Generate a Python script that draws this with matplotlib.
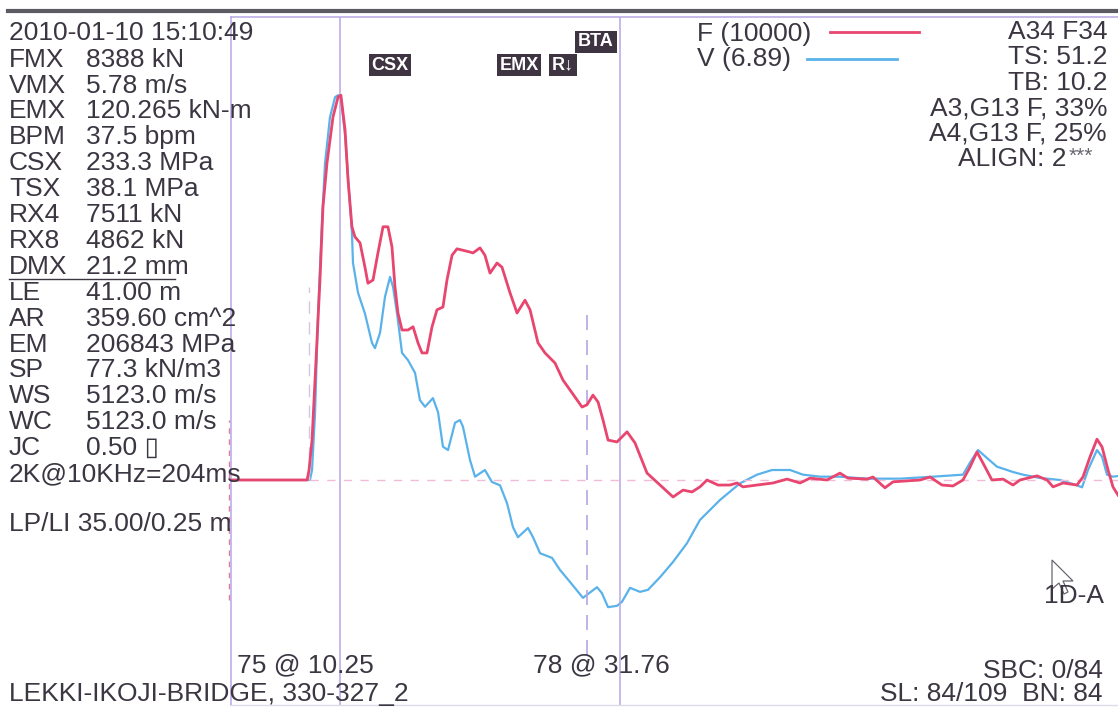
import matplotlib
matplotlib.use("Agg")
import matplotlib.pyplot as plt
from matplotlib.lines import Line2D
from matplotlib.patches import Polygon

# ── Blow record: force (kN) and velocity (m/s) vs time (ms) ──────────────────
force_t = [1.85, 7.7, 7.85, 8.08, 8.31, 8.69, 8.92, 9.23, 9.69, 10.08, 10.3,
           10.62, 10.85, 11.15, 11.38, 11.77, 12.15, 12.38, 12.77, 13.15, 13.54,
           13.92, 14.23, 14.46, 14.69, 15.0, 15.46, 15.85, 16.23, 16.54, 16.92,
           17.31, 17.69, 18.15, 18.46, 18.85, 19.23, 20.23, 20.46, 21.0, 21.38,
           21.77, 22.31, 22.69, 23.31, 23.85, 24.46, 24.85, 25.46, 26.0, 26.77,
           27.38, 28.08, 28.85, 29.23, 29.69, 30.08, 30.46, 30.85, 31.54, 32.31,
           32.92, 33.85, 34.85, 35.85, 36.62, 37.31, 37.92, 38.46, 39.31, 40.23,
           40.77, 41.23, 42.31, 43.54, 44.62, 45.62, 46.38, 47.69, 48.69, 49.31,
           50.77, 51.23, 52.15, 52.77, 54.85, 55.62, 56.54, 57.38, 58.15, 58.69,
           59.23, 59.69, 60.38, 61.23, 62.0, 62.54, 63.85, 64.62, 65.08, 65.85,
           66.92, 67.38, 67.92, 68.46, 68.85, 69.31, 69.69, 70.08]
force_kn = [0, 0, 218, 872, 2180, 4360, 5950, 6910, 7910, 8350, 8388,
            7630, 6540, 5520, 5300, 5170, 4640, 4290, 4360, 4950, 5520,
            5520, 5080, 4210, 3640, 3270, 3270, 3340, 2990, 2770, 2770,
            3340, 3710, 3770, 4360, 4900, 5040, 4970, 4950, 5060, 4900,
            4510, 4730, 4640, 4080, 3640, 3920, 3710, 2990, 2770, 2550,
            2180, 1900, 1590, 1640, 1850, 1700, 1310, 870, 830, 1050,
            810, 150, -110, -370, -220, -260, -150, 0, -110, -110,
            -65, -150, -110, -65, 20, -65, 40, 0, 150, 40,
            20, 65, -170, -40, 0, 65, -110, -130, 0, 280,
            610, 370, 0, 20, -110, 0, 90, 0, -150, -65,
            -110, 65, 500, 890, 720, 220, -150, -330]

vel_t = [1.85, 7.92, 8.08, 8.31, 8.54, 8.85, 9.08, 9.46, 9.85, 10.08, 10.31,
         10.62, 10.92, 11.15, 11.23, 11.62, 12.15, 12.69, 12.92, 13.31, 13.69,
         14.08, 14.31, 14.62, 15.0, 15.46, 16.0, 16.38, 16.77, 17.38, 17.77,
         18.15, 18.54, 19.08, 19.46, 19.69, 20.23, 20.62, 21.38, 21.92, 22.54,
         23.08, 23.54, 23.92, 24.69, 25.08, 25.62, 26.54, 27.15, 27.92, 28.92,
         30.0, 30.38, 30.85, 31.54, 31.92, 32.54, 33.31, 33.92, 34.85, 35.85,
         36.92, 37.92, 39.46, 41.0, 42.31, 43.46, 44.85, 45.85, 47.15, 48.69,
         50.77, 53.31, 55.85, 58.15, 58.69, 59.31, 60.0, 60.77, 62.0, 62.77,
         64.08, 65.62, 66.92, 67.31, 67.77, 68.46, 68.85, 69.23, 69.69, 70.08]
vel_ms = [0, 0, 0.15, 1.0, 2.5, 3.9, 4.76, 5.45, 5.75, 5.78, 5.73,
          5.18, 4.35, 3.71, 3.26, 2.81, 2.5, 2.06, 1.98, 2.21, 2.75,
          3.05, 2.9, 2.5, 1.91, 1.8, 1.61, 1.2, 1.1, 1.23, 1.02,
          0.5, 0.45, 0.86, 0.9, 0.8, 0.3, 0.05, 0.15, -0.03, -0.08,
          -0.35, -0.71, -0.86, -0.72, -0.86, -1.1, -1.17, -1.35, -1.53, -1.77,
          -1.61, -1.7, -1.91, -1.89, -1.83, -1.62, -1.68, -1.65, -1.46, -1.23,
          -0.95, -0.6, -0.3, -0.05, 0.08, 0.15, 0.15, 0.08, 0.05, 0.05,
          0.02, 0.02, 0.05, 0.08, 0.26, 0.45, 0.33, 0.2, 0.12, 0.08,
          0.03, 0.0, -0.08, -0.11, 0.15, 0.45, 0.35, 0.08, 0.05, 0.06]

F_SCALE = 10000.0   # kN
V_SCALE = 6.89      # m/s
cursor_times = [10.25, 31.76]
cursor_labels = ["75 @ 10.25", "78 @ 31.76"]

summary_keys = ["FMX", "VMX", "EMX", "BPM", "CSX", "TSX", "RX4", "RX8", "DMX",
                "LE", "AR", "EM", "SP", "WS", "WC", "JC"]
summary_vals = ["8388 kN", "5.78 m/s", "120.265 kN-m", "37.5 bpm", "233.3 MPa",
                "38.1 MPa", "7511 kN", "4862 kN", "21.2 mm", "41.00 m",
                "359.60 cm^2", "206843 MPa", "77.3 kN/m3", "5123.0 m/s",
                "5123.0 m/s", "0.50 \u25af"]
status_lines = ["A34 F34", "TS: 51.2", "TB: 10.2", "A3,G13 F, 33%", "A4,G13 F, 25%"]

RED = "#e8456f"
BLUE = "#5ab2ea"
LAV = "#b8a6e4"
INK = "#3b3641"

W, H = 1118, 709
plt.rcParams["font.family"] = ["Liberation Sans", "DejaVu Sans"]
fig = plt.figure(figsize=(W / 100, H / 100), dpi=100)
fig.patch.set_facecolor("white")


def fx(px):
    return px / W


def fy(py):
    return 1 - py / H


# plot window: pixel box 231..1118 x 17..705, zero line at y=480
KN_PER_PX = 21.8
ax = fig.add_axes([fx(231), fy(705), fx(1118) - fx(231), fy(17) - fy(705)])
ax.set_xlim((231 - 207) / 13.0, (1118 - 207) / 13.0)
ax.set_ylim((480 - 705) * KN_PER_PX, (480 - 17) * KN_PER_PX)
ax.set_xticks([])
ax.set_yticks([])
ax.spines["right"].set_visible(False)
for side in ["left", "top"]:
    ax.spines[side].set_color(LAV)
    ax.spines[side].set_linewidth(1.1)
ax.spines["bottom"].set_color("#dcdcec")
ax.spines["bottom"].set_linewidth(1.0)

axv = ax.twinx()
lo, hi = ax.get_ylim()
axv.set_ylim(lo * V_SCALE / F_SCALE, hi * V_SCALE / F_SCALE)
axv.axis("off")

# reference lines
ax.hlines(0, 7.9, ax.get_xlim()[1], colors="#f2bcd9", lw=1.0,
          linestyles=(0, (6, 6)), zorder=1)
for t in cursor_times:
    ax.axvline(t, color=LAV, lw=1.1, zorder=1)
ax.axvline(29.23, ymin=0.073, ymax=0.581, color=LAV, lw=1.2,
           linestyle=(0, (9, 6)), zorder=1)
ax.axvline(7.85, ymin=0.327, ymax=0.608, color="#d4c6e2", lw=1.0,
           linestyle=(0, (9, 6)), zorder=1)
ax.axvline(1.7, ymin=0.153, ymax=0.414, color="#e27aa0", lw=1.0,
           linestyle=(0, (4, 4)), zorder=1, clip_on=False)

axv.plot(vel_t, vel_ms, color=BLUE, lw=1.6, zorder=3)
ax.plot(force_t, force_kn, color=RED, lw=2.0, zorder=4)
ax.set_zorder(2)
ax.patch.set_visible(False)

# top frame bar
fig.add_artist(Line2D([fx(8), fx(1118)], [fy(11), fy(11)], color="#5c5a62", lw=3.0))

FS = 19
txt = dict(color=INK, fontsize=FS, va="baseline")

fig.text(fx(9), fy(40), "2010-01-10 15:10:49", **txt)
for i, (k, v) in enumerate(zip(summary_keys, summary_vals)):
    base = 66.7 + 25.9 * i
    fig.text(fx(9), fy(base), k, **txt)
    fig.text(fx(86), fy(base), v, **txt)
fig.add_artist(Line2D([fx(9), fx(175)], [fy(279.5), fy(279.5)], color=INK, lw=1.0))
fig.text(fx(9), fy(66.7 + 25.9 * 16), "2K@10KHz=204ms", **txt)
fig.text(fx(9), fy(531), "LP/LI 35.00/0.25 m", **txt)

fig.text(fx(237), fy(672), cursor_labels[0], **txt)
fig.text(fx(533), fy(672), cursor_labels[1], **txt)
fig.text(fx(9), fy(701), "LEKKI-IKOJI-BRIDGE, 330-327_2", **txt)

# legend
fig.text(fx(697), fy(41), "F (%d)" % F_SCALE, **txt)
fig.text(fx(697), fy(66), "V (%.2f)" % V_SCALE, **txt)
fig.add_artist(Line2D([fx(830), fx(919)], [fy(32), fy(32)], color=RED, lw=2.0))
fig.add_artist(Line2D([fx(807), fx(897)], [fy(58.5), fy(58.5)], color=BLUE, lw=2.0))

# right-hand status block
for i, s in enumerate(status_lines):
    fig.text(fx(1107), fy(39 + 25.5 * i), s, ha="right", **txt)
fig.text(fx(1066), fy(166), "ALIGN: 2", ha="right", **txt)
fig.text(fx(1069), fy(162), "***", ha="left", color="#6a6570", fontsize=15, va="baseline")

fig.text(fx(1104), fy(603), "1D-A", ha="right", **txt)
fig.text(fx(1103), fy(678), "SBC: 0/84", ha="right", **txt)
fig.text(fx(1103), fy(701), "SL: 84/109  BN: 84", ha="right", **txt)

# event tags
tag = dict(color="white", fontsize=13, fontweight="bold", va="center", ha="center",
           bbox=dict(boxstyle="square,pad=0.15", fc="#3f3542", ec="none"))
fig.text(fx(390), fy(65), "CSX", **tag)
fig.text(fx(519), fy(65), "EMX", **tag)
fig.text(fx(563), fy(65), "R\u2193", **tag)
fig.text(fx(596), fy(42), "BTA", **tag)

# mouse pointer
arrow_px = [(1052, 560), (1052, 589), (1059, 583), (1064, 594), (1068, 592),
            (1063, 581), (1073, 581)]
fig.add_artist(Polygon([(fx(x), fy(y)) for x, y in arrow_px], closed=True,
                       fc="none", ec="#6a6670", lw=0.9, transform=fig.transFigure))

fig.savefig("out.png", dpi=100, facecolor="white")
